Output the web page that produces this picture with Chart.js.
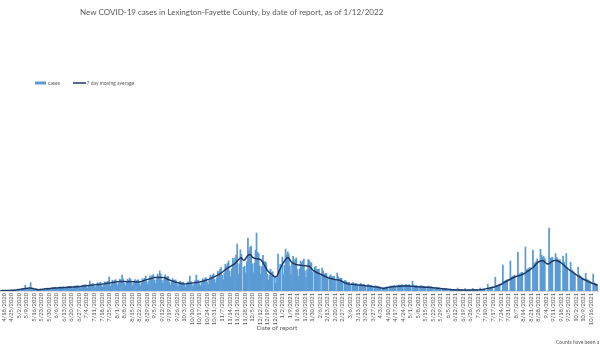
<!DOCTYPE html>
<html>
<head>
<meta charset="utf-8">
<script src="https://cdn.jsdelivr.net/npm/chart.js@4.4.1/dist/chart.umd.min.js"></script>
<style>
  html, body { margin: 0; padding: 0; background: #fff; overflow: hidden; }
  #wrap { position: relative; width: 600px; height: 350px; }
</style>
</head>
<body>
<div id="wrap"><canvas id="chart" width="600" height="350"></canvas></div>
<script>
// Daily series, one value per day starting 4/15/2020
const firstDate = [2020, 4, 15];

const cases = [
  3,4,5,3,2,3,6,
  6,6,6,5,3,5,8,
  8,11,14,10,7,13,20,
  19,23,46,17,12,19,30,
  67,25,24,14,9,12,15,
  11,13,16,11,8,13,20,
  19,22,24,15,11,18,28,
  25,29,30,20,14,22,33,
  30,32,34,22,16,24,36,
  33,37,39,25,18,27,41,
  37,41,44,28,20,31,48,
  43,48,51,33,23,37,80,
  51,56,60,38,27,43,65,
  57,64,70,44,31,50,74,
  66,73,79,112,36,57,85,
  76,86,91,58,41,64,95,
  85,128,96,61,42,64,94,
  84,104,94,60,41,63,91,
  80,86,90,58,41,65,99,
  90,102,120,73,51,82,122,
  110,124,131,86,60,93,136,
  119,160,135,86,59,91,130,
  110,115,115,70,47,72,99,
  84,88,88,53,36,56,78,
  66,68,71,45,31,50,74,
  66,120,78,51,35,55,84,
  128,83,88,57,41,64,98,
  88,100,108,71,52,84,124,
  113,128,139,92,66,105,159,
  145,173,188,125,90,144,213,
  195,220,240,160,113,178,261,
  234,264,288,376,136,218,330,
  292,0,190,198,145,234,424,
  319,350,360,218,146,223,325,
  464,310,300,200,135,195,285,
  233,235,225,133,86,126,175,
  147,154,0,120,62,102,296,
  174,214,0,272,130,204,336,
  288,314,295,200,130,224,278,
  240,255,265,170,117,175,240,
  225,240,255,162,110,170,250,
  248,228,225,150,0,190,198,
  170,173,175,122,0,184,161,
  138,139,140,97,0,122,130,
  113,115,117,83,0,144,114,
  99,101,100,68,0,84,82,
  69,70,70,48,0,64,68,
  59,59,60,43,0,56,60,
  52,53,54,38,0,48,52,
  45,46,44,31,0,40,42,
  36,36,33,22,0,26,27,
  25,29,33,25,0,36,42,
  38,42,45,33,0,45,49,
  44,47,49,48,0,48,52,
  46,48,50,35,0,78,48,
  41,43,44,31,0,40,43,
  37,38,38,28,0,36,39,
  33,34,33,23,0,29,30,
  25,25,25,17,0,22,22,
  19,19,18,12,0,16,15,
  12,11,11,0,0,24,9,
  9,9,9,0,0,20,8,
  8,9,9,0,0,21,9,
  9,9,9,0,0,24,12,
  14,15,17,0,0,55,24,
  27,30,33,0,0,110,42,
  46,50,56,0,0,208,75,
  80,86,92,0,0,240,110,
  116,120,126,0,0,310,135,
  140,146,150,0,0,352,168,
  176,180,188,0,0,328,216,
  226,236,258,0,0,334,288,
  270,276,260,0,0,0,504,
  262,264,270,0,0,300,270,
  256,250,248,0,0,280,230,
  205,300,190,0,0,230,170,
  160,152,140,0,0,190,130,
  120,112,104,0,0,142,95,
  88,82,76,0,0,136,66,
  60,56,52
];

const movingAverage = [
  3,3,4,4,4,4,5,
  5,5,5,6,6,6,6,
  7,9,11,12,13,15,16,
  17,19,20,21,22,23,24,
  23,21,19,17,16,14,12,
  10,11,12,13,14,15,16,
  17,18,19,19,20,21,22,
  23,24,24,25,25,26,26,
  27,27,27,28,28,29,29,
  30,31,31,32,32,33,33,
  34,34,35,35,36,37,38,
  39,40,41,42,43,44,45,
  46,47,48,49,50,51,52,
  52,52,53,55,56,57,59,
  60,61,63,64,65,67,68,
  69,70,72,73,74,75,76,
  77,77,76,76,76,75,75,
  76,76,75,75,74,74,73,
  73,72,72,72,74,76,79,
  82,85,88,91,93,96,98,
  100,103,105,108,108,109,109,
  108,108,108,108,108,107,104,
  100,96,92,88,85,82,79,
  76,73,70,68,66,64,62,
  60,58,57,56,57,58,59,
  60,61,62,63,65,66,67,
  68,69,71,72,74,76,78,
  80,83,86,89,92,95,99,
  103,107,111,115,119,123,127,
  132,138,144,150,156,163,170,
  177,183,188,193,198,204,209,
  213,220,230,240,248,256,264,
  266,252,246,248,262,275,285,
  290,292,286,272,266,262,260,
  258,258,256,254,250,240,228,
  212,196,180,166,156,148,140,
  134,128,118,112,112,120,136,
  158,178,196,212,228,240,252,
  262,268,264,250,236,228,222,
  218,214,212,210,208,208,206,
  205,204,203,202,201,200,200,
  198,190,180,170,162,158,152,
  148,144,140,136,132,128,124,
  120,116,112,108,104,102,100,
  98,96,94,92,90,89,88,
  86,84,80,75,70,66,63,
  60,58,56,55,54,53,52,
  51,50,49,48,48,47,46,
  45,44,43,42,41,40,40,
  39,38,36,35,34,33,32,
  31,30,28,26,24,22,21,
  22,24,26,28,30,31,32,
  33,34,35,36,37,37,38,
  38,39,39,40,40,40,40,
  40,40,40,39,39,38,37,
  36,35,35,34,34,33,33,
  32,32,31,31,30,30,30,
  29,28,27,26,25,24,23,
  22,22,21,20,19,18,17,
  17,16,15,14,13,12,11,
  11,10,10,9,9,8,8,
  8,8,8,8,8,8,7,
  7,8,8,8,8,8,8,
  8,8,8,8,9,10,11,
  12,13,15,17,19,21,22,
  24,26,28,30,32,35,38,
  41,44,48,52,56,62,68,
  72,76,80,86,90,94,100,
  104,108,112,115,118,120,122,
  125,128,132,136,140,146,152,
  158,162,168,175,182,188,196,
  206,216,226,232,236,240,242,
  242,240,232,224,218,216,218,
  226,232,238,242,244,246,244,
  240,236,232,226,220,212,204,
  196,188,180,174,168,162,156,
  150,144,138,132,126,120,115,
  110,104,98,94,90,86,82,
  78,74,70,66,62,59,56,
  52,48,45
];

// Labels shown on the date axis: one a week, starting 4/18/2020
const firstLabelIndex = 3;
const labelStep = 7;

const chartTitle = 'New COVID-19 cases in Lexington-Fayette County, by date of report, as of 1/12/2022';
const seriesNames = ['cases', '7 day moving average'];
const axisTitle = 'Date of report';
const footnote = 'Counts have been a';

function dayLabel(i) {
  const d = new Date(Date.UTC(firstDate[0], firstDate[1] - 1, firstDate[2]) + i * 86400000);
  return (d.getUTCMonth() + 1) + '/' + d.getUTCDate() + '/' + d.getUTCFullYear();
}
const dates = cases.map((_, i) => dayLabel(i));

const TEXT = '#595959';
const BAR = '#5B9BD5';
const LINE = '#1F3864';
const FONT = 'Lato';

// Title, legend, axis caption and note drawn at fixed spots on the canvas
const captions = {
  id: 'captions',
  afterDraw(chart) {
    const ctx = chart.ctx;
    const [barSet, lineSet] = chart.data.datasets;
    ctx.save();
    ctx.textBaseline = 'middle';
    ctx.textAlign = 'left';
    ctx.fillStyle = TEXT;
    ctx.font = '8px ' + FONT;
    ctx.fillText(chartTitle, 80, 12.5);

    // legend
    ctx.fillStyle = barSet.backgroundColor;
    ctx.fillRect(35, 81.5, 11, 3);
    ctx.fillStyle = TEXT;
    ctx.font = '5px ' + FONT;
    ctx.fillText(barSet.label, 48, 83);
    ctx.strokeStyle = lineSet.borderColor;
    ctx.lineWidth = 1.5;
    ctx.beginPath();
    ctx.moveTo(73, 83);
    ctx.lineTo(86, 83);
    ctx.stroke();
    ctx.fillText(lineSet.label, 86.5, 83);

    ctx.font = '6.5px ' + FONT;
    ctx.textAlign = 'center';
    ctx.fillText(axisTitle, 277, 328);

    ctx.font = '5px ' + FONT;
    ctx.textAlign = 'left';
    ctx.fillText(footnote, 556, 342);
    ctx.restore();
  }
};

new Chart(document.getElementById('chart'), {
  type: 'bar',
  data: {
    labels: dates,
    datasets: [
      {
        type: 'bar',
        label: seriesNames[0],
        data: cases,
        backgroundColor: BAR,
        borderWidth: 0,
        barPercentage: 1,
        categoryPercentage: 1,
        order: 1
      },
      {
        type: 'line',
        label: seriesNames[1],
        data: movingAverage,
        borderColor: LINE,
        backgroundColor: LINE,
        borderWidth: 1.5,
        pointRadius: 0,
        tension: 0,
        order: 0
      }
    ]
  },
  options: {
    responsive: false,
    animation: false,
    devicePixelRatio: 1,
    layout: { padding: { top: 91, left: 0, right: 0, bottom: 0 } },
    plugins: {
      legend: { display: false },
      title: { display: false },
      tooltip: { enabled: false }
    },
    scales: {
      x: {
        grid: { display: false, drawTicks: false },
        border: { display: true, color: '#D9D9D9', width: 1 },
        ticks: {
          autoSkip: false,
          minRotation: 90,
          maxRotation: 90,
          padding: 2,
          color: TEXT,
          font: { family: FONT, size: 5.8 },
          callback: function (value, index) {
            return (index - firstLabelIndex) % labelStep === 0 ? this.getLabelForValue(value) : null;
          }
        },
        afterFit: (scale) => { scale.height = 59; }
      },
      y: {
        display: false,
        min: 0,
        max: 1600
      }
    }
  },
  plugins: [captions]
});
</script>
</body>
</html>
